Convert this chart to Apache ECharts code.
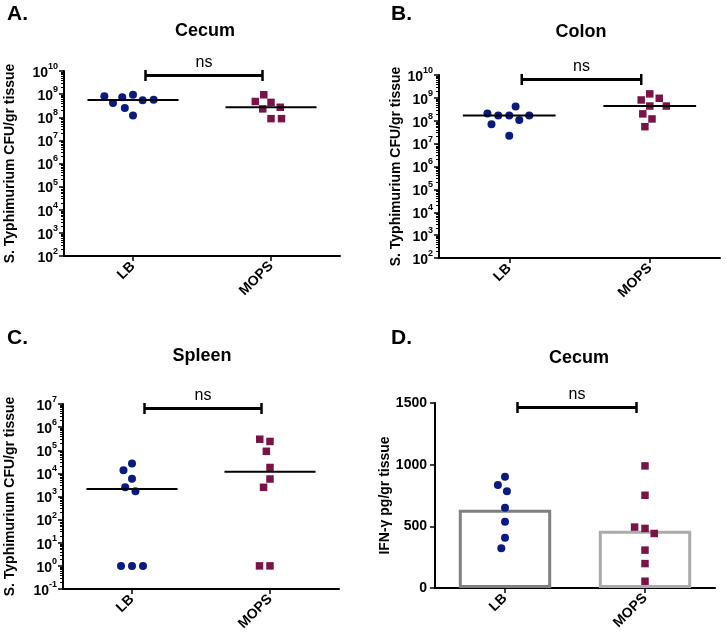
<!DOCTYPE html>
<html><head><meta charset="utf-8">
<script src="https://cdn.jsdelivr.net/npm/echarts@6/dist/echarts.min.js"></script>
<style>html,body{margin:0;padding:0;background:#fff}#c{width:726px;height:638px}</style>
</head><body><div id="c"></div>
<script>
// ---- data ----
const groups = ['LB', 'MOPS'];
const cecumLB    = [9.3e8, 7.4e8, 5.5e8, 1.2e8, 2.5e8, 4.1e8, 5.7e8, 8.1e8];
const cecumMOPS  = [4.4e8, 2.3e8, 9.4e8, 2.7e8, 4.8e8, 8.7e7, 8.7e7];
const colonLB    = [1.7e8, 1.7e8, 4.2e8, 1.07e8, 7.1e7, 1.7e8, 2.1e8, 2.2e7];
const colonMOPS  = [1.5e9, 8.1e8, 9.6e8, 4.4e8, 4.4e8, 2.0e8, 1.2e8, 5.5e7];
const spleenLB   = [5.9e3, 2.7e4, 1.35e4, 2.5e3, 1.7e3, 1, 1, 1];
const spleenMOPS = [2.4e5, 3.0e5, 9.0e4, 1.8e4, 5.7e3, 2.5e3, 1, 1];
const ifngLB     = [903, 835, 784, 651, 537, 407, 323];
const ifngMOPS   = [990, 752, 483, 494, 442, 307, 198, 55];
const titles  = ['Cecum', 'Colon', 'Spleen', 'Cecum'];
const letters = ['A.', 'B.', 'C.', 'D.'];
const cfuName = 'S. Typhimurium CFU/gr tissue';
const ifnName = 'IFN-\u03b3 pg/gr tissue';
const sigLabel = 'ns';

// ---- helpers ----
function median(a) {
  const s = a.slice().sort((x, y) => x - y);
  const m = Math.floor(s.length / 2);
  return s.length % 2 ? s[m] : (s[m - 1] + s[m]) / 2;
}
function mean(a) { return a.reduce((p, c) => p + c, 0) / a.length; }

const FONT = 'Liberation Sans, Arial, Helvetica, sans-serif';
const NAVY = '#0b1a7e';
const MAROON = '#7a1446';

const panels = [
  { lb: cecumLB,  mops: cecumMOPS,  log: true, min: 1e2,  max: 1e10, name: cfuName,
    grid: { left: 64,  top: 71,  width: 276, height: 185 }, nameGap: 47,
    letterPos: [7, 14], titlePos: [205, 31] },
  { lb: colonLB,  mops: colonMOPS,  log: true, min: 1e2,  max: 1e10, name: cfuName,
    grid: { left: 439, top: 75,  width: 281, height: 183 }, nameGap: 36,
    letterPos: [391, 14], titlePos: [581, 32] },
  { lb: spleenLB, mops: spleenMOPS, log: true, min: 1e-1, max: 1e7,  name: cfuName,
    grid: { left: 63,  top: 404, width: 276, height: 185 }, nameGap: 46,
    letterPos: [7, 338], titlePos: [202, 356] },
  { lb: ifngLB,   mops: ifngMOPS,   log: false, min: 0,   max: 1500, name: ifnName,
    grid: { left: 435, top: 403, width: 280, height: 185 }, nameGap: 36,
    letterPos: [391, 338], titlePos: [579, 358] }
];

const option = {
  animation: false,
  backgroundColor: '#fff',
  grid: [], xAxis: [], yAxis: [], series: [], graphic: []
};

panels.forEach((p, i) => {
  option.grid.push(Object.assign({ containLabel: false, outerBoundsMode: 'none' }, p.grid));
  option.xAxis.push({
    type: 'category', gridIndex: i, data: groups, boundaryGap: true,
    jitter: 80, jitterOverlap: false, jitterMargin: 3,
    axisLine: { show: true, lineStyle: { color: '#000', width: 2 } },
    axisTick: { show: true, alignWithLabel: true, length: 5, lineStyle: { color: '#000', width: 1.5 } },
    axisLabel: { rotate: 45, margin: 8, fontSize: 14, fontWeight: 'bold', color: '#000', fontFamily: FONT },
    splitLine: { show: false }
  });
  const y = {
    gridIndex: i, min: p.min, max: p.max,
    name: p.name, nameLocation: 'middle', nameGap: p.nameGap,
    nameTextStyle: { fontSize: 14, fontWeight: 'bold', color: '#000', fontFamily: FONT },
    axisLine: { show: true, lineStyle: { color: '#000', width: 2 } },
    axisTick: { show: true, length: 5, lineStyle: { color: '#000', width: 1.5 } },
    splitLine: { show: false }
  };
  if (p.log) {
    Object.assign(y, {
      type: 'log', logBase: 10,
      minorTick: { show: true, splitNumber: 9, length: 3, lineStyle: { color: '#000', width: 1 } },
      minorSplitLine: { show: false },
      axisLabel: {
        margin: 6,
        formatter: v => '{b|10}{s|' + Math.round(Math.log10(v)) + '}',
        rich: {
          b: { fontSize: 14, fontWeight: 'bold', color: '#000', fontFamily: FONT, lineHeight: 18, verticalAlign: 'bottom' },
          s: { fontSize: 9, fontWeight: 'bold', color: '#000', fontFamily: FONT, lineHeight: 8, verticalAlign: 'top' }
        }
      }
    });
  } else {
    Object.assign(y, {
      type: 'value', interval: 500,
      axisLabel: { margin: 8, fontSize: 14, fontWeight: 'bold', color: '#000', fontFamily: FONT,
                   formatter: v => String(v) }
    });
  }
  option.yAxis.push(y);

  if (!p.log) {
    option.series.push({
      type: 'bar', xAxisIndex: i, yAxisIndex: i, barWidth: '66%', z: 1,
      data: [
        { value: mean(p.lb),   itemStyle: { color: '#fff', borderColor: '#808080', borderWidth: 3 } },
        { value: mean(p.mops), itemStyle: { color: '#fff', borderColor: '#ababab', borderWidth: 3 } }
      ]
    });
  }
  option.series.push({
    type: 'scatter', xAxisIndex: i, yAxisIndex: i, symbol: 'circle', symbolSize: 8, z: 3,
    itemStyle: { color: NAVY, opacity: 1 }, data: p.lb.map(v => [groups[0], v])
  });
  option.series.push({
    type: 'scatter', xAxisIndex: i, yAxisIndex: i, symbol: 'rect', symbolSize: 7.5, z: 3,
    itemStyle: { color: MAROON, opacity: 1 }, data: p.mops.map(v => [groups[1], v])
  });
  if (p.log) {
    option.series.push({
      type: 'custom', xAxisIndex: i, yAxisIndex: i, z: 4, clip: false,
      data: [[0, median(p.lb)], [1, median(p.mops)]],
      renderItem: (params, api) => {
        const c = api.coord([api.value(0), api.value(1)]);
        const bw = api.size([1, 1], [api.value(0), api.value(1)])[0];
        const hw = bw * 0.33;
        return { type: 'line', shape: { x1: c[0] - hw, y1: c[1], x2: c[0] + hw, y2: c[1] },
                 style: { stroke: '#000', lineWidth: 2 } };
      }
    });
  }
  // significance bracket
  option.series.push({
    type: 'custom', xAxisIndex: i, yAxisIndex: i, z: 5, clip: false, silent: true,
    data: [[0, p.max]],
    renderItem: (params, api) => {
      const x0 = api.coord([0, p.max])[0] + 12.5;
      const x1 = api.coord([1, p.max])[0] - 8.5;
      const yb = params.coordSys.y + 4.5;
      return { type: 'group', children: [
        { type: 'line', shape: { x1: x0, y1: yb, x2: x1, y2: yb }, style: { stroke: '#000', lineWidth: 3 } },
        { type: 'line', shape: { x1: x0, y1: yb - 5.5, x2: x0, y2: yb + 5.5 }, style: { stroke: '#000', lineWidth: 2.5 } },
        { type: 'line', shape: { x1: x1, y1: yb - 5.5, x2: x1, y2: yb + 5.5 }, style: { stroke: '#000', lineWidth: 2.5 } },
        { type: 'text', x: (x0 + x1) / 2, y: yb - 13,
          style: { text: sigLabel, fill: '#000', font: '16px ' + FONT, align: 'center', verticalAlign: 'middle' } }
      ] };
    }
  });

  option.graphic.push({
    type: 'text', x: p.letterPos[0], y: p.letterPos[1],
    style: { text: letters[i], fill: '#000', font: 'bold 21px ' + FONT, align: 'left', verticalAlign: 'middle',
             textAlign: 'left', textVerticalAlign: 'middle' }
  });
  option.graphic.push({
    type: 'text', x: p.titlePos[0], y: p.titlePos[1],
    style: { text: titles[i], fill: '#000', font: 'bold 18px ' + FONT, align: 'center', verticalAlign: 'middle',
             textAlign: 'center', textVerticalAlign: 'middle' }
  });
});

const chart = echarts.init(document.getElementById('c'), null, { renderer: 'canvas', width: 726, height: 638 });
chart.setOption(option);
</script>
</body></html>
